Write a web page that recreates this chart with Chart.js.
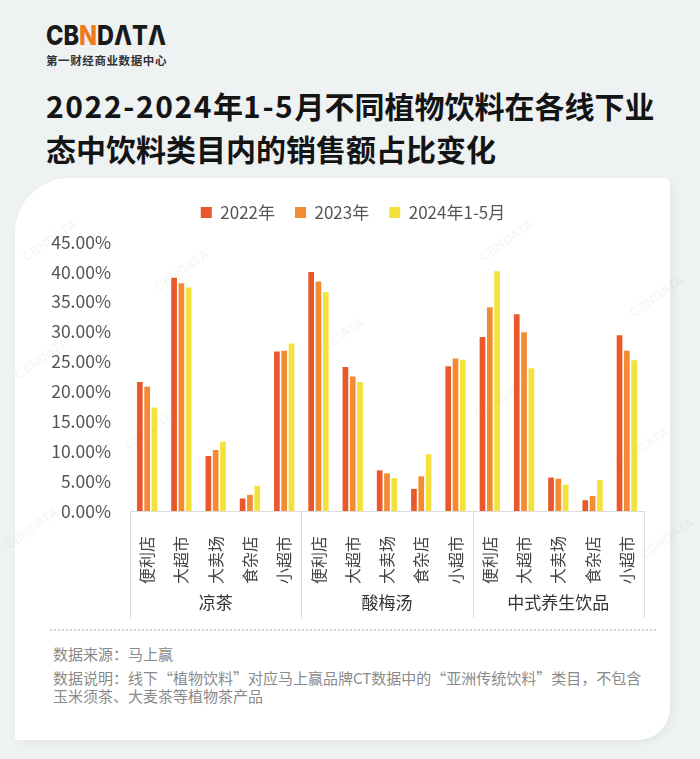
<!DOCTYPE html>
<html lang="zh-CN">
<head>
<meta charset="utf-8">
<script src="https://cdn.jsdelivr.net/npm/chart.js@4.4.1/dist/chart.umd.min.js"></script>
<style>
  html, body { margin: 0; padding: 0; }
  body {
    width: 700px; height: 759px; position: relative; overflow: hidden;
    background: #eef2f3;
    font-family: 'Noto Sans CJK SC', 'Noto Sans', sans-serif;
  }
  .logo { position: absolute; left: 46px; top: 20px; }
  .logo .mark { font-family: Inter, 'Liberation Sans', sans-serif; font-weight: 800; font-size: 27px; line-height: 32px; color: #1a1a1a; transform: scaleX(0.87); transform-origin: left center; }
  .logo .mark span { color: #f07a1e; }
  .logo .sub { font-size: 11.5px; font-weight: 700; color: #333; letter-spacing: 0.6px; }
  .title { position: absolute; left: 46px; top: 84px; font-size: 30px; font-weight: 700; line-height: 43px; color: #141414; }
  .title .num { letter-spacing: 1.6px; }
  .card {
    position: absolute; left: 15px; top: 178px; width: 655px; height: 562px;
    background: #fff; border-radius: 55px 6px 32px 0;
    box-shadow: 3px 2px 8px rgba(0,0,0,0.05);
  }
  .wrap { position: absolute; left: 0; top: 181px; width: 700px; height: 446px; }
  .dots { position: absolute; left: 50px; top: 629px; width: 606px; border-top: 2px dotted #d4d4d4; }
  .note { position: absolute; left: 53px; font-size: 15px; line-height: 18px; color: #8a8a8a; width: 620px; }
  .note .ql, .note .qr { display: inline-block; width: 1em; }
  .note .ql { text-align: right; }
  .note .qr { text-align: left; }
  .wm { position: absolute; font-family: Inter, sans-serif; font-weight: 700; font-size: 13px; color: rgba(0,0,0,0.05); transform: rotate(-35deg); }
</style>
</head>
<body>
<div class="logo">
  <div class="mark">CB<span>N</span>DΛTΛ</div>
  <div class="sub">第一财经商业数据中心</div>
</div>
<div class="title"><span class="num">2022-2024</span>年<span class="num">1-5</span>月不同植物饮料在各线下业<br>态中饮料类目内的销售额占比变化</div>
<div class="card"></div>
<div class="wm" style="left:18px;top:232px">CBNDATA</div>
<div class="wm" style="left:150px;top:262px">CBNDATA</div>
<div class="wm" style="left:475px;top:232px">CBNDATA</div>
<div class="wm" style="left:625px;top:288px">CBNDATA</div>
<div class="wm" style="left:10px;top:350px">CBNDATA</div>
<div class="wm" style="left:305px;top:330px">CBNDATA</div>
<div class="wm" style="left:470px;top:390px">CBNDATA</div>
<div class="wm" style="left:120px;top:420px">CBNDATA</div>
<div class="wm" style="left:610px;top:440px">CBNDATA</div>
<div class="wm" style="left:0px;top:520px">CBNDATA</div>
<div class="wm" style="left:635px;top:530px">CBNDATA</div>
<div class="wrap"><canvas id="chart"></canvas></div>
<div class="dots"></div>
<div class="note" style="top:645px">数据来源：马上赢</div>
<div class="note" style="top:669px">数据说明：线下<span class="ql">“</span>植物饮料<span class="qr">”</span>对应马上赢品牌CT数据中的<span class="ql">“</span>亚洲传统饮料<span class="qr">”</span>类目，不包含<br>玉米须茶、大麦茶等植物茶产品</div>

<script>
// Data
const categories = ['便利店', '大超市', '大卖场', '食杂店', '小超市'];
const groups = ['凉茶', '酸梅汤', '中式养生饮品'];
const seriesNames = ['2022年', '2023年', '2024年1-5月'];
const share2022 = [21.6, 39.0, 9.2, 2.1, 26.7, 40.0, 24.1, 6.8, 3.7, 24.2, 29.1, 32.9, 5.6, 1.8, 29.4];
const share2023 = [20.8, 38.1, 10.2, 2.7, 26.8, 38.4, 22.5, 6.3, 5.8, 25.5, 34.1, 29.9, 5.4, 2.5, 26.8];
const share2024 = [17.3, 37.4, 11.6, 4.2, 28.0, 36.6, 21.6, 5.5, 9.5, 25.3, 40.1, 23.9, 4.4, 5.2, 25.2];
const yTicks = [0, 5, 10, 15, 20, 25, 30, 35, 40, 45];

const colors = ['#e8582b', '#f28b34', '#f4e13a'];
const fontFamily = "'Noto Sans CJK SC', 'Noto Sans', sans-serif";

// same five channels under each drink group
const labels = [];
groups.forEach(() => categories.forEach(c => labels.push(c)));

// Legend: a bit taller and nudged right
const legendTweak = {
  id: 'legendTweak',
  beforeInit(chart) {
    const fit = chart.legend.fit;
    chart.legend.fit = function () {
      fit.call(this);
      this.height += 11;
    };
  },
  afterLayout(chart) {
    chart.legend.left += 6;
    chart.legend.right += 6;
  }
};

// Group names and separators under the category labels
const groupAxis = {
  id: 'groupAxis',
  afterDraw(chart) {
    const x = chart.scales.x;
    const area = chart.chartArea;
    const ctx = chart.ctx;
    const n = categories.length;
    const edges = [];
    for (let i = 0; i <= groups.length; i++) {
      if (i === 0) edges.push(area.left);
      else if (i === groups.length) edges.push(area.right);
      else edges.push((x.getPixelForValue(i * n - 1) + x.getPixelForValue(i * n)) / 2);
    }
    ctx.save();
    ctx.strokeStyle = '#dcdcdc';
    ctx.lineWidth = 1;
    edges.forEach(px => {
      ctx.beginPath();
      ctx.moveTo(Math.round(px) + 0.5, area.bottom);
      ctx.lineTo(Math.round(px) + 0.5, area.bottom + 107);
      ctx.stroke();
    });
    ctx.fillStyle = '#333';
    ctx.font = '17px ' + fontFamily;
    ctx.textAlign = 'center';
    ctx.textBaseline = 'middle';
    groups.forEach((g, i) => {
      ctx.fillText(g, (edges[i] + edges[i + 1]) / 2, area.bottom + 92);
    });
    ctx.restore();
  }
};

new Chart(document.getElementById('chart'), {
  type: 'bar',
  data: {
    labels: labels,
    datasets: [share2022, share2023, share2024].map((d, i) => ({
      label: seriesNames[i],
      data: d,
      backgroundColor: colors[i],
      categoryPercentage: 0.64,
      barPercentage: 0.78
    }))
  },
  options: {
    responsive: true,
    maintainAspectRatio: false,
    animation: false,
    layout: { padding: { left: 50, right: 56, top: 3, bottom: 2 } },
    scales: {
      x: {
        grid: { display: false },
        border: { display: true, color: '#dcdcdc' },
        ticks: {
          color: '#444',
          font: { size: 16, family: fontFamily },
          minRotation: 90,
          maxRotation: 90,
          autoSkip: false,
          padding: 17
        },
        afterFit: s => { s.height = 114; }
      },
      y: {
        min: 0,
        max: 45,
        grid: { display: false },
        border: { display: false },
        afterBuildTicks: s => { s.ticks = yTicks.map(v => ({ value: v })); },
        ticks: {
          color: '#555',
          font: { size: 17.5, family: fontFamily },
          padding: 11,
          callback: v => v.toFixed(2) + '%'
        },
        afterFit: s => { s.width = 80; }
      }
    },
    plugins: {
      legend: {
        position: 'top',
        labels: {
          color: '#555',
          font: { size: 17, family: fontFamily },
          boxWidth: 11,
          boxHeight: 11,
          padding: 20
        }
      },
      tooltip: { enabled: false }
    }
  },
  plugins: [groupAxis, legendTweak]
});
</script>
</body>
</html>
